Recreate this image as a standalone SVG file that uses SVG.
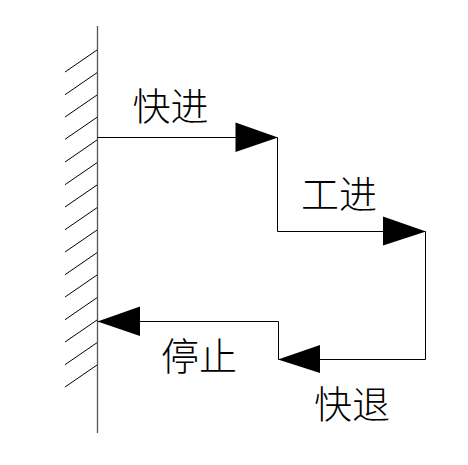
<svg xmlns="http://www.w3.org/2000/svg" width="468" height="465" viewBox="0 0 468 465">
<style>
.ln{stroke:#000;stroke-width:1;fill:none}
.wall{stroke:#555;stroke-width:1.3;fill:none}
.ah{fill:#000;stroke:none}
.lb{font-family:"Liberation Serif","Noto Sans CJK SC",serif;font-size:38px;font-weight:300;fill:#000;text-anchor:middle;dominant-baseline:central}
</style>
<rect width="468" height="465" fill="#fff"/>
<g id="wall">
<line class="wall" x1="97.5" y1="26" x2="97.5" y2="433"/>
<g class="ln">
<line x1="97" y1="50" x2="65" y2="72"/>
<line x1="97" y1="72.7" x2="65" y2="94.7"/>
<line x1="97" y1="95" x2="65" y2="117"/>
<line x1="97" y1="117.3" x2="65" y2="139.3"/>
<line x1="97" y1="140" x2="65" y2="162"/>
<line x1="97" y1="162.7" x2="65" y2="184.7"/>
<line x1="97" y1="185" x2="65" y2="207"/>
<line x1="97" y1="207.7" x2="65" y2="229.7"/>
<line x1="97" y1="230" x2="65" y2="252"/>
<line x1="97" y1="252.7" x2="65" y2="274.7"/>
<line x1="97" y1="275" x2="65" y2="297"/>
<line x1="97" y1="297.7" x2="65" y2="319.7"/>
<line x1="97" y1="320" x2="65" y2="342"/>
<line x1="97" y1="342.7" x2="65" y2="364.7"/>
<line x1="97" y1="365" x2="65" y2="387"/>
</g>
</g>
<g id="connectors">
<polyline class="ln" points="97.5,137.5 277.5,137.5 277.5,231.5 425.5,231.5 425.5,359.5 278.5,359.5 278.5,321.5 97.5,321.5"/>
<polygon class="ah" points="235.5,122.5 278,137.5 235.5,152"/>
<polygon class="ah" points="383,216.5 426,231.5 383,245.5"/>
<polygon class="ah" points="320,345 278,359.5 320,373"/>
<polygon class="ah" points="140,306.5 97.5,321.5 140,336"/>
</g>
<g id="kuaijin"><text class="lb" x="170.5" y="107">快进</text></g>
<g id="gongjin"><text class="lb" x="339" y="195">工进</text></g>
<g id="tingzhi"><text class="lb" x="199" y="357">停止</text></g>
<g id="kuaitui"><text class="lb" x="352" y="405">快退</text></g>
</svg>
